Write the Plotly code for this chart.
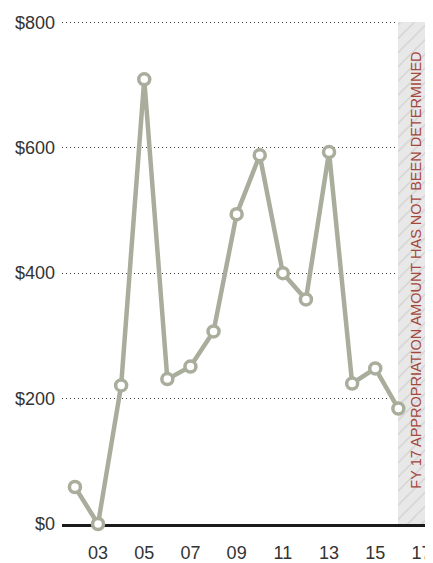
import plotly.graph_objects as go

years = [2002, 2003, 2004, 2005, 2006, 2007, 2008, 2009, 2010, 2011, 2012, 2013, 2014, 2015, 2016]
values = [59, 0, 221, 709, 231, 251, 307, 494, 588, 400, 358, 593, 224, 248, 184]

x_tickvals = [2003, 2005, 2007, 2009, 2011, 2013, 2015, 2017]
x_ticktext = ["03", "05", "07", "09", "11", "13", "15", "17"]
y_tickvals = [0, 200, 400, 600, 800]
y_ticktext = ["$0", "$200", "$400", "$600", "$800"]

pending_x = [2016.75]
pending_width = [1.5]
pending_top = [800]
pending_note = "FY 17 APPROPRIATION AMOUNT HAS NOT BEEN DETERMINED"

line_color = "#a9ad9b"

fig = go.Figure()

fig.add_trace(go.Bar(
    x=pending_x, y=pending_top, width=pending_width,
    marker=dict(
        color="#e8e8e8",
        line=dict(width=0),
        pattern=dict(shape="/", bgcolor="#e8e8e8", fgcolor="#b8b8b8", size=10, solidity=0.12),
    ),
    hoverinfo="skip", showlegend=False,
))

fig.add_trace(go.Scatter(
    x=years, y=values, mode="lines+markers",
    line=dict(color=line_color, width=4.5),
    marker=dict(size=11, color="white", line=dict(color=line_color, width=3.5)),
    cliponaxis=False, showlegend=False,
))

fig.add_annotation(
    x=pending_x[0], y=405, text=pending_note, textangle=-90, showarrow=False,
    font=dict(family="Liberation Sans Narrow, Liberation Sans, Arial, sans-serif",
              size=14.5, color="#a5473b"),
)

# page body has an 8px default margin: figure starts at (8,8)
fig.update_layout(
    width=425, height=555,
    margin=dict(l=54, r=0, t=13, b=39),
    plot_bgcolor="white", paper_bgcolor="white",
    font=dict(family="Liberation Sans, Arial, sans-serif", size=18, color="#333333"),
    xaxis=dict(
        range=[2001.44, 2017.5],
        tickvals=x_tickvals, ticktext=x_ticktext,
        showgrid=False, zeroline=False, automargin=False,
        showline=True, linecolor="#1a1a1a", linewidth=3,
        ticks="", ticklabelstandoff=10,
        layer="below traces",
        tickfont=dict(size=18, color="#333333"),
    ),
    yaxis=dict(
        range=[0, 802],
        tickvals=y_tickvals, ticktext=y_ticktext,
        showgrid=True, gridcolor="#444444", griddash="1px,3px", gridwidth=1,
        zeroline=False, showline=False, ticks="", ticklabelstandoff=6,
        automargin=False,
        tickfont=dict(size=18, color="#333333"),
    ),
    bargap=0,
)

fig.write_html("out.html")
